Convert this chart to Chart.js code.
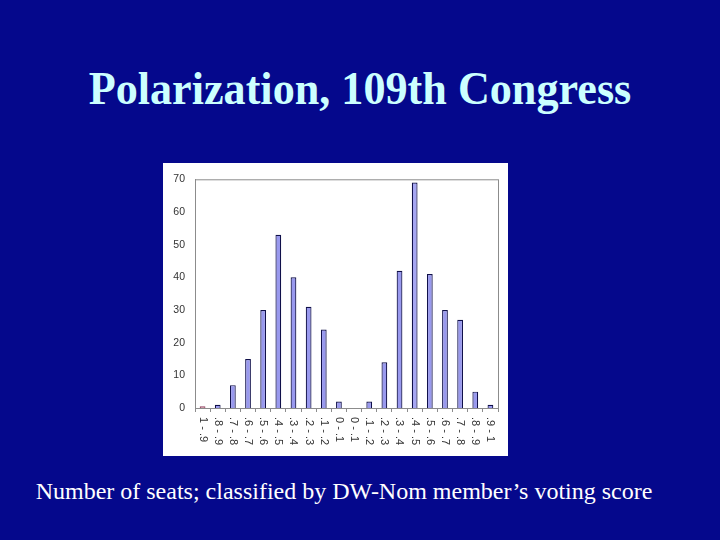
<!DOCTYPE html>
<html>
<head>
<meta charset="utf-8">
<script src="https://cdn.jsdelivr.net/npm/chart.js@4/dist/chart.umd.min.js"></script>
<style>
  html, body { margin: 0; padding: 0; }
  body { width: 720px; height: 540px; background: #05088c; position: relative; overflow: hidden; }
  #title {
    position: absolute; left: 0; top: 62px; width: 720px; text-align: center;
    font-family: "Liberation Serif", "Times New Roman", serif; font-weight: bold;
    font-size: 46px; color: #ccffff; transform: scaleX(0.96); transform-origin: 360px 0;
    white-space: nowrap;
  }
  #box { position: absolute; left: 163px; top: 163px; width: 345px; height: 293px; background: #fff; }
  #caption {
    position: absolute; left: -16px; top: 478px; width: 720px; text-align: center;
    font-family: "Liberation Serif", "Times New Roman", serif; font-size: 24px; color: #fff;
    white-space: nowrap;
  }
</style>
</head>
<body>
<div id="title">Polarization, 109th Congress</div>
<div id="box"><canvas id="chart" width="345" height="293"></canvas></div>
<div id="caption">Number of seats; classified by DW-Nom member’s voting score</div>
<script>
var labels = ["1 - .9", ".8 - .9", ".7 - .8", ".6 - .7", ".5 - .6", ".4 - .5", ".3 - .4", ".2 - .3", ".1 - .2", "0 - .1",
              "0 - .1", ".1 - .2", ".2 - .3", ".3 - .4", ".4 - .5", ".5 - .6", ".6 - .7", ".7 - .8", ".8 - .9", ".9 - 1"];
var seats = [0.5, 1, 7, 15, 30, 53, 40, 31, 24, 2, 0, 2, 14, 42, 69, 41, 30, 27, 5, 1];
var yTicks = [0, 10, 20, 30, 40, 50, 60, 70];

var fills = seats.map(function(v, i) { return i === 0 ? '#c08090' : (i === 14 ? '#a6a6f2' : '#9999ee'); });
var borders = seats.map(function(v, i) { return i === 0 ? '#904060' : '#10104a'; });

// x labels read top-to-bottom, so draw them by hand on the category scale
var rotatedLabels = {
  id: 'rotatedLabels',
  afterDraw: function(chart) {
    var ctx = chart.ctx, x = chart.scales.x, area = chart.chartArea;
    ctx.save();
    ctx.strokeStyle = '#8c8c8c';
    ctx.lineWidth = 1;
    ctx.strokeRect(area.left + 0.5, area.top + 0.5, area.right - area.left, area.bottom - area.top);
    ctx.fillStyle = '#333';
    ctx.font = '11px "Liberation Sans", Arial, sans-serif';
    ctx.textAlign = 'left';
    ctx.textBaseline = 'middle';
    labels.forEach(function(l, i) {
      ctx.save();
      ctx.translate(x.getPixelForValue(i), area.bottom + 9);
      ctx.rotate(Math.PI / 2);
      ctx.fillText(l, 0, 0);
      ctx.restore();
    });
    ctx.restore();
  }
};

var chart = new Chart(document.getElementById('chart').getContext('2d'), {
  type: 'bar',
  data: {
    labels: labels,
    datasets: [{
      data: seats,
      backgroundColor: fills,
      borderColor: borders,
      borderWidth: 1.2,
      barPercentage: 0.38,
      categoryPercentage: 1.0
    }]
  },
  options: {
    responsive: false,
    animation: false,
    layout: { padding: { top: 15, right: 10 } },
    plugins: { legend: { display: false }, tooltip: { enabled: false } },
    scales: {
      x: {
        grid: { drawOnChartArea: false, drawTicks: true, tickLength: 4, color: '#8c8c8c' },
        border: { color: '#8c8c8c' },
        ticks: { display: false },
        afterFit: function(s) { s.height = 48; }
      },
      y: {
        min: 0, max: 70,
        afterBuildTicks: function(s) { s.ticks = yTicks.map(function(v) { return { value: v }; }); },
        grid: { display: false, drawTicks: false },
        border: { color: '#8c8c8c' },
        ticks: { padding: 10, color: '#333', font: { family: '"Liberation Sans", Arial, sans-serif', size: 10.5 } },
        afterFit: function(s) { s.width = 32; }
      }
    }
  },
  plugins: [rotatedLabels]
});
</script>
</body>
</html>
